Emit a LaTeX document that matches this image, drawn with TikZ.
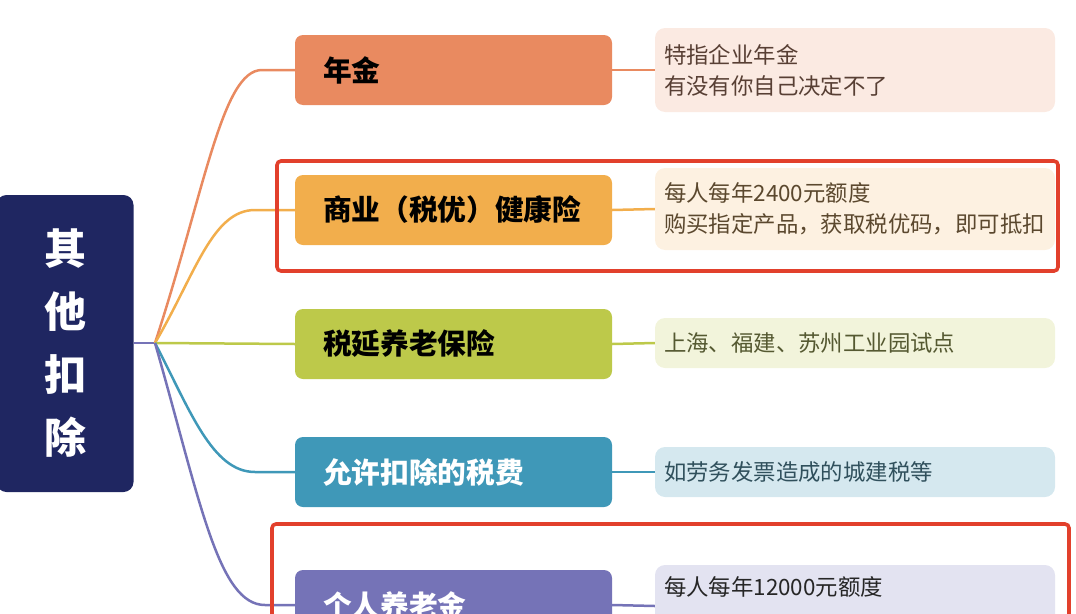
\documentclass[tikz,border=0pt]{standalone}
\usepackage{fontspec}
\setmainfont{Noto Sans CJK SC}
\usetikzlibrary{positioning}
\definecolor{rootblue}{HTML}{1F2661}
\definecolor{nianjin}{HTML}{E98A60}
\definecolor{health}{HTML}{F2AE4C}
\definecolor{shuyan}{HTML}{BDC94A}
\definecolor{shuifei}{HTML}{3F98B8}
\definecolor{geren}{HTML}{7573B7}
\definecolor{hlred}{HTML}{E2402C}
\tikzset{
  topic/.style={rectangle,rounded corners=8pt,minimum width=317pt,minimum height=70pt,
    text width=261pt,inner xsep=28pt,align=left,font=\bfseries\fontsize{28.7}{32}\selectfont},
  detail/.style={rectangle,rounded corners=10pt,minimum width=400pt,text width=382pt,
    inner xsep=9pt,align=left,font=\fontsize{22.4}{31}\selectfont},
  link/.style={line width=2.5pt},
  highlight/.style={draw=hlred,line width=3.6pt,rounded corners=4pt}
}
\begin{document}
\begin{tikzpicture}[x=1pt,y=-1pt]
  \useasboundingbox (0,0) rectangle (1076,613);
  \clip (0,0) rectangle (1076,613);
  % Root
  \node[rectangle,rounded corners=10pt,fill=rootblue,text=white,minimum width=137pt,
    minimum height=297pt,align=center,font=\bfseries\fontsize{42}{63}\selectfont]
    (root) at (65,343.5) {其\\他\\扣\\除};
  \coordinate (hub) at (155,343);
  % Topics
  \node[topic,fill=nianjin,text=black] (t1) at (453.5,70) {年金};
  \node[topic,fill=health,text=black] (t2) at (453.5,210) {商业（税优）健康险};
  \node[topic,fill=shuyan,text=black] (t3) at (453.5,344) {税延养老保险};
  \node[topic,fill=shuifei,text=white] (t4) at (453.5,472) {允许扣除的税费};
  \node[topic,fill=geren,text=white] (t5) at (453.5,605) {个人养老金};
  % Details
  \node[detail,fill=nianjin!18,text=nianjin!30!black!90,minimum height=84pt] (d1) at (855,70)
    {特指企业年金\\有没有你自己决定不了};
  \node[detail,fill=health!17,text=health!30!black!90,minimum height=82pt] (d2) at (855,209)
    {每人每年2400元额度\\购买指定产品，获取税优码，即可抵扣};
  \node[detail,fill=shuyan!20,text=shuyan!35!black!90,minimum height=50pt] (d3) at (855,343)
    {上海、福建、苏州工业园试点};
  \node[detail,fill=shuifei!22,text=shuifei!40!black!90,minimum height=50pt] (d4) at (855,472)
    {如劳务发票造成的城建税等};
  \node[detail,fill=geren!20,text=black!85,minimum height=82pt] (d5) at (855,606)
    {每人每年12000元额度\\\strut};
  % Links
  \draw[link,geren] (root.east |- hub) -- (hub);
  \draw[link,nianjin] (hub) .. controls (205,190) and (222,70) .. (262,70) -- (t1.west);
  \draw[link,health] (hub) .. controls (195,275) and (212,210) .. (255,210) -- (t2.west);
  \draw[link,shuyan] (hub) -- (t3.west);
  \draw[link,shuifei] (hub) .. controls (190,410) and (212,472) .. (255,472) -- (t4.west);
  \draw[link,geren] (hub) .. controls (200,500) and (218,605) .. (265,605) -- (t5.west);
  \foreach \i/\c in {1/nianjin,2/health,3/shuyan,4/shuifei,5/geren}
    \draw[link,\c] (t\i.east) -- (d\i.west);
  % Highlights
  \draw[highlight] (277,161) rectangle (1058,271);
  \draw[highlight] (272,524) rectangle (1069,660);
\end{tikzpicture}
\end{document}
